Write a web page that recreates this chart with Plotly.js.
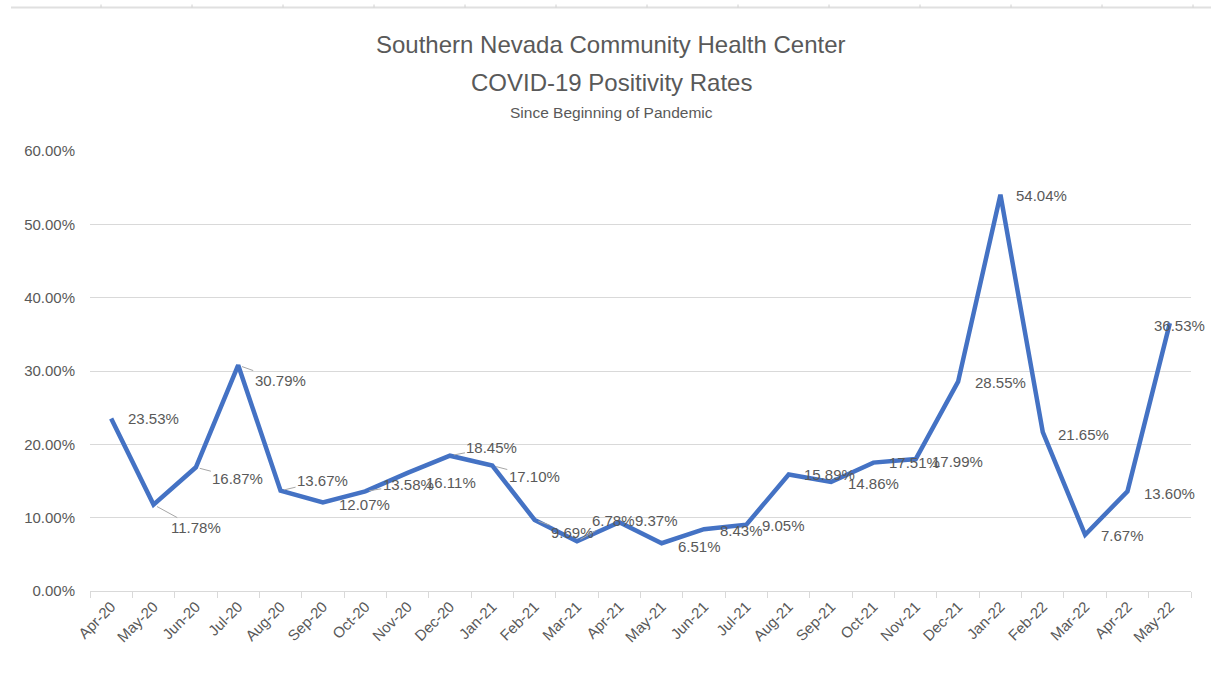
<!DOCTYPE html>
<html>
<head>
<meta charset="utf-8">
<script src="https://cdn.plot.ly/plotly-3.0.1.min.js"></script>
<style>html,body{margin:0;padding:0;background:#fff;}#chart{width:1211px;height:673px;}</style>
</head>
<body>
<div id="chart"></div>
<script>
// ---- data ----
const months = ["Apr-20","May-20","Jun-20","Jul-20","Aug-20","Sep-20","Oct-20","Nov-20","Dec-20","Jan-21","Feb-21","Mar-21","Apr-21","May-21","Jun-21","Jul-21","Aug-21","Sep-21","Oct-21","Nov-21","Dec-21","Jan-22","Feb-22","Mar-22","Apr-22","May-22"];
const positivityRates = [23.53,11.78,16.87,30.79,13.67,12.07,13.58,16.11,18.45,17.10,9.69,6.78,9.37,6.51,8.43,9.05,15.89,14.86,17.51,17.99,28.55,54.04,21.65,7.67,13.60,36.53];
const titleLines = ["Southern Nevada Community Health Center","COVID-19 Positivity Rates","Since Beginning of Pandemic"];

// ---- label placement (pixel offsets of label centre from its point) ----
const labelDX = [42,42,42,42,42,42,43,43,42,42,38,37,37,38,37,37,41,42,41,42,42,41,41,37,42,10];
const labelDY = [0,23,11,15,-10,2,-7,10,-8,11,13,-21,-2,3,1,1,0,1,0,2,1,1,2,1,2,2];
const leader  = [0,1,1,1,1,0,1,0,1,1,1,1,0,0,0,0,0,0,0,0,0,0,0,0,0,0];

const txtColor = '#595959';
const lblFont = {family:'Liberation Sans, Arial, sans-serif', size:15, color:txtColor};

const annotations = [];
months.forEach((m,i)=>{
  const t = positivityRates[i].toFixed(2)+'%';
  if(leader[i]){
    annotations.push({x:m, y:positivityRates[i], xref:'x', yref:'y', text:t, font:lblFont,
      showarrow:true, ax:labelDX[i], ay:labelDY[i], axref:'pixel', ayref:'pixel',
      arrowhead:0, arrowwidth:1, arrowcolor:'#a6a6a6', standoff:4, startstandoff:0});
  } else {
    annotations.push({x:m, y:positivityRates[i], xref:'x', yref:'y', text:t, font:lblFont,
      showarrow:false, xanchor:'center', yanchor:'middle', xshift:labelDX[i], yshift:-labelDY[i]});
  }
});

// titles
const plotTop=151, plotBot=591, plotH=plotBot-plotTop, plotL=90, plotW=1101;
const py = px => (plotBot-px)/plotH;
const cx = (611-plotL)/plotW;
const titleFont = 'Liberation Sans, Arial, sans-serif';
annotations.push({xref:'paper', yref:'paper', x:cx, y:py(45), text:titleLines[0], showarrow:false, xanchor:'center', yanchor:'middle', font:{family:titleFont, size:24, color:txtColor}});
annotations.push({xref:'paper', yref:'paper', x:cx, y:py(82), text:titleLines[1], showarrow:false, xanchor:'center', yanchor:'middle', font:{family:titleFont, size:24, color:txtColor}});
annotations.push({xref:'paper', yref:'paper', x:cx, y:py(112), text:titleLines[2], showarrow:false, xanchor:'center', yanchor:'middle', font:{family:titleFont, size:15.5, color:txtColor}});

// decorative top border line with small ticks
const shapes = [{type:'line', xref:'paper', yref:'paper', x0:(11-plotL)/plotW, x1:(1211-plotL)/plotW, y0:py(7.5), y1:py(7.5), line:{color:'#e0e0e0', width:2}}];
for(let xp=101; xp<1211; xp+=91){
  shapes.push({type:'line', xref:'paper', yref:'paper', x0:(xp-plotL)/plotW, x1:(xp-plotL)/plotW, y0:py(4.5), y1:py(7.5), line:{color:'#d0d0d0', width:1}});
}

const trace = {x:months, y:positivityRates, type:'scatter', mode:'lines',
  line:{color:'#4472C4', width:4.5}, hoverinfo:'skip'};

const layout = {
  width:1211, height:673, autosize:false,
  margin:{l:plotL, r:1211-plotL-plotW, t:plotTop, b:673-plotBot, pad:0},
  paper_bgcolor:'#ffffff', plot_bgcolor:'#ffffff',
  showlegend:false,
  font:{family:'Liberation Sans, Arial, sans-serif', color:txtColor, size:15},
  xaxis:{type:'category', range:[-0.5, months.length-0.5], showgrid:false, zeroline:false,
    showline:true, linecolor:'#d9d9d9', linewidth:1, ticks:'outside', tickson:'boundaries',
    ticklen:6, tickcolor:'#d9d9d9', tickangle:-45, tickfont:{size:15, color:txtColor}, fixedrange:true},
  yaxis:{range:[0,60], dtick:10, tick0:0, tickformat:'.2f', ticksuffix:'%', showgrid:true, gridcolor:'#d9d9d9', gridwidth:1,
    zeroline:false, showline:false, ticks:'', ticklabelstandoff:14, tickfont:{size:15, color:txtColor}, fixedrange:true},
  annotations:annotations, shapes:shapes
};
Plotly.newPlot('chart',[trace],layout,{displayModeBar:false, staticPlot:true});
</script>
</body>
</html>
